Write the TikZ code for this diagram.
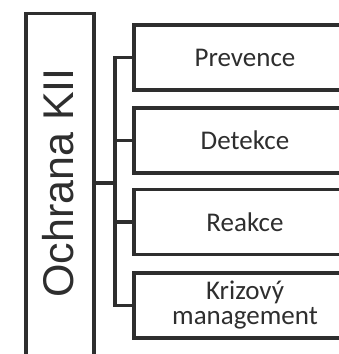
\documentclass[tikz,border=0pt]{standalone}
\usepackage{fontspec}
\setmainfont{Carlito}
\newfontfamily\rootfont{Liberation Sans}
\definecolor{ink}{HTML}{2E2E2E}
\begin{document}
\begin{tikzpicture}[x=1pt,y=-1pt,
  line/.style={draw=ink,line width=3.2pt},
  rootbox/.style={line,minimum width=68pt,minimum height=370pt,inner sep=0pt},
  leaf/.style={line,minimum width=222pt,minimum height=65pt,inner sep=0pt,
    font=\fontsize{27}{28}\selectfont,text=ink,align=center},
  roottext/.style={rotate=90,font=\rootfont\fontsize{43}{48}\selectfont,text=ink,inner sep=0pt}]
\useasboundingbox (0,0) rectangle (339,354);
\clip (0,0) rectangle (339,354);
\node[rootbox,anchor=north] (root) at (60,12) {};
\node[roottext] (rootlabel) at (58,183) {Ochrana KII};
\node[leaf] (b1) at (245,57.5) {Prevence};
\node[leaf] (b2) at (245,140.5) {Detekce};
\node[leaf] (b3) at (245,222) {Reakce};
\node[leaf] (b4) at (245,305.5) {Krizový\\[-3pt]management};
\coordinate (bus) at (115,183);
\draw[line] (root.east |- bus) -- (bus);
\draw[line] (b1.west) -- (b1.west -| bus) -- (b4.west -| bus) -- (b4.west);
\draw[line] (b2.west) -- (b2.west -| bus);
\draw[line] (b3.west) -- (b3.west -| bus);
\end{tikzpicture}
\end{document}
